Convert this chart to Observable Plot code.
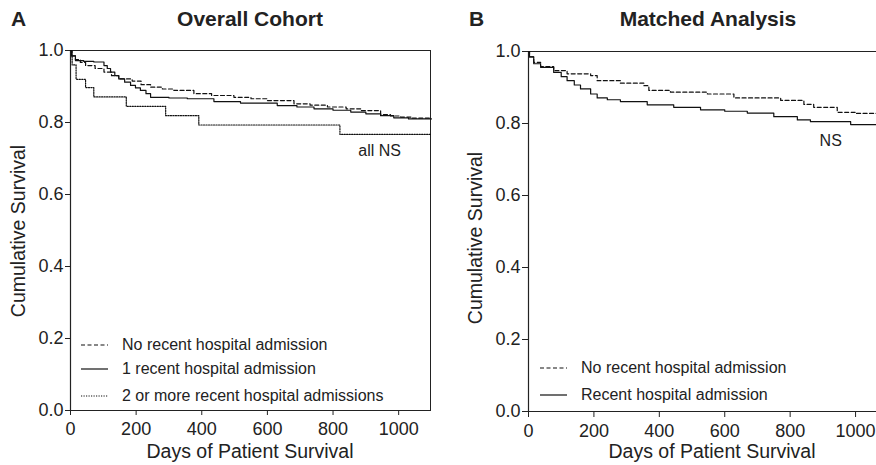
<!DOCTYPE html>
<html><head><meta charset="utf-8">
<script src="https://cdn.jsdelivr.net/npm/d3@7"></script>
<script src="https://cdn.jsdelivr.net/npm/@observablehq/plot@0.6"></script>
<style>
body{margin:0;background:#fff;font-family:"Liberation Sans",Arial,sans-serif;color:#222}
#wrap{position:relative;width:876px;height:465px;overflow:hidden;background:#fff}
.abs{position:absolute;white-space:nowrap}
.title{font-weight:bold;font-size:21px}
.axt{font-size:19.5px;line-height:20px}
.leg{font-size:16px;display:flex;align-items:center}
.leg svg{margin-right:14px}
</style></head>
<body><div id="wrap"></div>
<script>
// ---- data ----
const ticksX = [0, 200, 400, 600, 800, 1000];
const ticksY = [0, 0.2, 0.4, 0.6, 0.8, 1.0];

// Panel A (Overall Cohort): [days, survival]
const noRecentA = [[0,1.0],[4,0.985],[15,0.975],[30,0.967],[46,0.958],[75,0.95],[102,0.94],[125,0.93],[147,0.921],[188,0.915],[215,0.905],[244,0.898],[280,0.893],[315,0.889],[376,0.88],[430,0.875],[498,0.87],[550,0.866],[600,0.861],[681,0.852],[730,0.848],[783,0.843],[840,0.838],[884,0.833],[945,0.822],[975,0.818],[1006,0.815],[1040,0.812],[1100,0.812]];
const oneRecentA = [[0,1.0],[3,0.985],[15,0.972],[40,0.97],[71,0.968],[102,0.958],[112,0.95],[122,0.94],[135,0.93],[147,0.921],[165,0.912],[183,0.903],[198,0.896],[213,0.889],[230,0.88],[244,0.87],[300,0.868],[356,0.866],[437,0.858],[518,0.854],[630,0.847],[690,0.843],[742,0.838],[800,0.834],[854,0.829],[900,0.824],[945,0.819],[985,0.813],[1030,0.81],[1100,0.81]];
const twoPlusA = [[0,1.0],[5,0.96],[17,0.92],[46,0.897],[71,0.871],[170,0.845],[290,0.819],[391,0.793],[821,0.767],[1100,0.767]];

// Panel B (Matched Analysis)
const noRecentB = [[0,1.0],[3,0.985],[16,0.97],[37,0.958],[77,0.947],[118,0.938],[190,0.933],[210,0.919],[281,0.912],[353,0.905],[368,0.892],[434,0.887],[547,0.882],[628,0.871],[771,0.864],[842,0.853],[872,0.845],[944,0.831],[1000,0.828],[1064,0.828]];
const recentB = [[0,1.0],[3,0.985],[16,0.966],[37,0.956],[77,0.942],[100,0.93],[118,0.919],[140,0.907],[159,0.896],[190,0.882],[210,0.871],[241,0.866],[281,0.861],[363,0.852],[444,0.845],[526,0.838],[600,0.834],[669,0.829],[750,0.819],[822,0.81],[862,0.805],[985,0.797],[1064,0.797]];

const legendA = ["No recent hospital admission", "1 recent hospital admission", "2 or more recent hospital admissions"];
const legendB = ["No recent hospital admission", "Recent hospital admission"];
const noteA = [{day: 942, s: 0.722, text: "all NS"}];
const noteB = [{day: 924, s: 0.752, text: "NS"}];
const titles = ["Overall Cohort", "Matched Analysis"];
const letters = ["A", "B"];
const xTitle = "Days of Patient Survival";
const yTitle = "Cumulative Survival";

// ---- styles ----
const DASH = "4,2.5", DOT = "1.2,1.3";
const FONT = '"Liberation Sans", Arial, sans-serif';
const wrap = document.getElementById("wrap");

function line(data, dash) {
  return Plot.line(data, {x: d => d[0], y: d => d[1], curve: "step-after", stroke: "#111", strokeWidth: 1.2, strokeDasharray: dash});
}

function panel({left, width, mL, mR, mT, mB, xmax, series, notes, frame, tickSize}) {
  const p = Plot.plot({
    width, height: 465, marginLeft: mL, marginRight: mR, marginTop: mT, marginBottom: mB,
    style: {fontFamily: FONT, fontSize: "18px", color: "#222", background: "transparent", overflow: "visible"},
    x: {domain: [0, xmax]},
    y: {domain: [0, 1]},
    marks: [
      frame ? Plot.frame({stroke: "#222", strokeWidth: 1}) : Plot.ruleY([1], {stroke: "#222", strokeWidth: 1.2}),
      Plot.ruleY([0], {stroke: "#222", strokeWidth: 1.2}),
      Plot.ruleX([0], {stroke: "#222", strokeWidth: 1.2}),
      Plot.axisX({ticks: ticksX, tickSize, tickPadding: 7, label: null, tickFormat: d3.format("d"), stroke: "#222"}),
      Plot.axisY({ticks: ticksY, tickSize, tickPadding: 2, label: null, tickFormat: d3.format(".1f"), stroke: "#222"}),
      ...series.map(([d, dash]) => line(d, dash)),
      Plot.text(notes, {x: "day", y: "s", text: "text", fontSize: 16, fill: "#222"})
    ]
  });
  p.style.position = "absolute"; p.style.left = left + "px"; p.style.top = "0px";
  wrap.appendChild(p);
}

panel({left: 0, width: 440, mL: 70, mR: 10, mT: 50, mB: 55, xmax: 1097,
  series: [[noRecentA, DASH], [oneRecentA, null], [twoPlusA, DOT]], notes: noteA, frame: true, tickSize: 5});
panel({left: 440, width: 436, mL: 88, mR: 0, mT: 51, mB: 54, xmax: 1064,
  series: [[noRecentB, DASH], [recentB, null]], notes: noteB, frame: false, tickSize: 6});

function addText(txt, cls, css) {
  const d = document.createElement("div");
  d.className = "abs " + cls; d.textContent = txt;
  Object.assign(d.style, css); wrap.appendChild(d); return d;
}
// letters and titles
addText(letters[0], "title", {left: "11px", top: "7px"});
addText(letters[1], "title", {left: "469px", top: "7px"});
addText(titles[0], "title", {left: "250px", top: "7px", transform: "translateX(-50%)"});
addText(titles[1], "title", {left: "708px", top: "7px", transform: "translateX(-50%)"});
// axis titles
addText(xTitle, "axt", {left: "250px", top: "441px", transform: "translateX(-50%)"});
addText(xTitle, "axt", {left: "712px", top: "441px", transform: "translateX(-50%)"});
addText(yTitle, "axt", {left: "18px", top: "231px", transform: "translate(-50%,-50%) rotate(-90deg)"});
addText(yTitle, "axt", {left: "475px", top: "238px", transform: "translate(-50%,-50%) rotate(-90deg)"});

// legends
function legendRow(label, dash, x, yc) {
  const d = document.createElement("div");
  d.className = "abs leg";
  d.style.left = x + "px"; d.style.top = (yc - 10) + "px"; d.style.height = "20px";
  const ns = "http://www.w3.org/2000/svg";
  const s = document.createElementNS(ns, "svg");
  s.setAttribute("width", 27); s.setAttribute("height", 10);
  const l = document.createElementNS(ns, "line");
  l.setAttribute("x1", 0); l.setAttribute("x2", 27); l.setAttribute("y1", 5); l.setAttribute("y2", 5);
  l.setAttribute("stroke", "#111"); l.setAttribute("stroke-width", 1.2);
  if (dash) l.setAttribute("stroke-dasharray", dash);
  s.appendChild(l); d.appendChild(s);
  const t = document.createElement("span"); t.textContent = label; d.appendChild(t);
  wrap.appendChild(d);
}
legendRow(legendA[0], DASH, 81, 345);
legendRow(legendA[1], null, 81, 369);
legendRow(legendA[2], DOT, 81, 396);
legendRow(legendB[0], DASH, 540, 368);
legendRow(legendB[1], null, 540, 395);
</script></body></html>
